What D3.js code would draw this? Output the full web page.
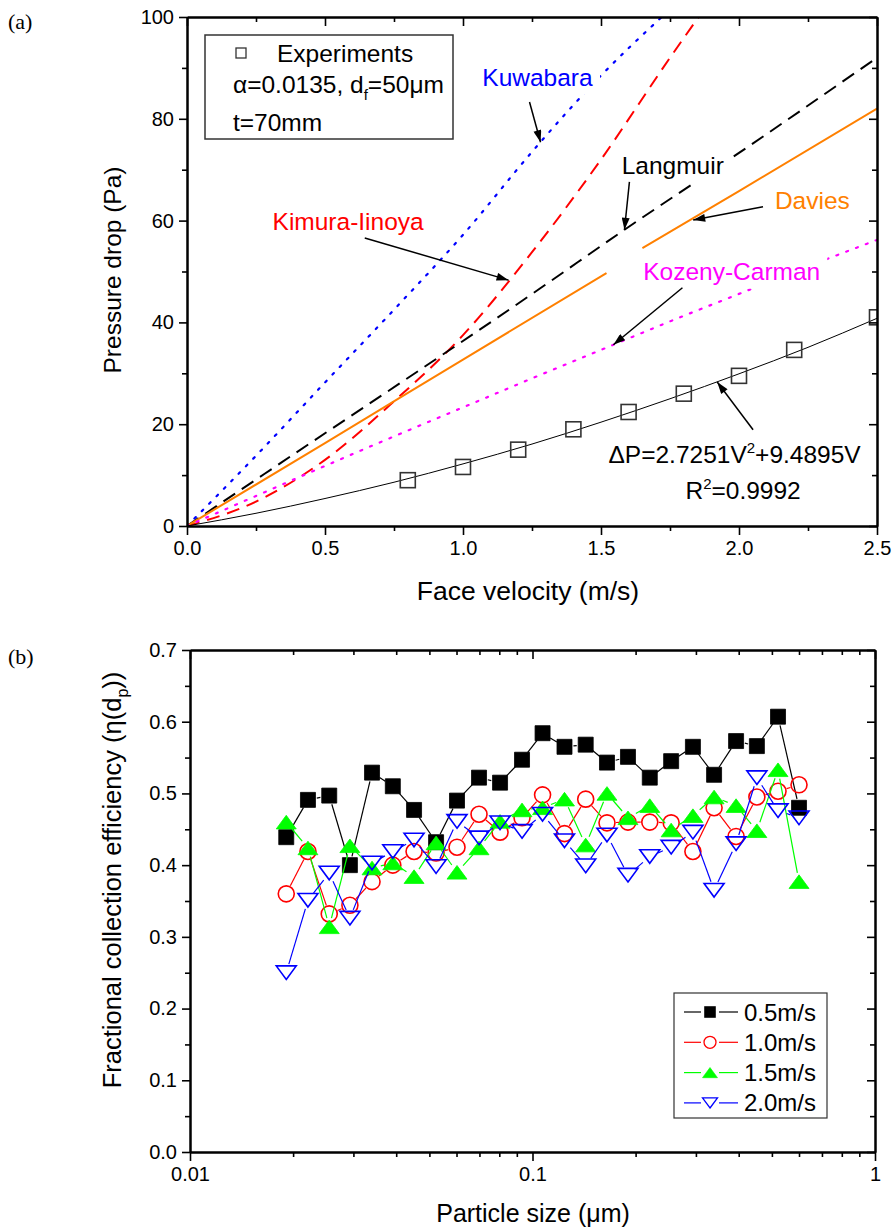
<!DOCTYPE html>
<html>
<head>
<meta charset="utf-8">
<script src="https://cdn.jsdelivr.net/npm/d3@7"></script>
<style>
  body { margin: 0; background: #fff; }
  svg { display: block; }
</style>
</head>
<body>
<div id="chart"></div>
<script>
/* ── Data: (a) pressure drop vs face velocity ───────────────────────── */
const velocity    = [0.8, 1.0, 1.2, 1.4, 1.6, 1.8, 2.0, 2.2, 2.5];
const pressureExp = [9.0, 11.6, 15.0, 19.0, 22.4, 26.0, 29.5, 34.6, 41.0];

// fitted curve
const fitCurve = [[0, 0], [0.25, 2.5], [0.5, 5.4], [0.75, 8.6], [1, 12.2], [1.25, 16.1],
                  [1.5, 20.4], [1.75, 25.0], [2, 29.9], [2.25, 35.1], [2.5, 40.8]];
const kuwabara = [[0, 0], [0.25, 13.8], [0.5, 28.2], [0.75, 42.5], [1, 57.2], [1.25, 73.5],
                  [1.5, 88.5], [1.72, 100]];
const kimura   = [[0, 0], [0.25, 4.8], [0.5, 13.0], [0.75, 24.5], [1, 37.5], [1.25, 53.8],
                  [1.5, 72.0], [1.75, 92.0], [1.86, 100.5]];
const langmuir = [[0, 0], [0.34, 12.4], [1.28, 46.7], [1.585, 58.2], [2.0, 73.3], [2.5, 92.0]];
const davies   = [[0, 0], [0.5, 16.3], [1, 32.7], [1.52, 49.7], [1.585, null],
                  [1.65, 54.6], [2.0, 65.8], [2.5, 82.0]];
const kozeny   = [[0, 0], [0.25, 5.9], [0.5, 11.8], [0.75, 17.6], [1, 23.3], [1.25, 29.0],
                  [1.5, 34.6], [1.75, 40.2], [2, 45.6], [2.25, 51.0], [2.5, 56.2]];

/* ── Data: (b) fractional efficiency vs particle size ───────────────── */
const particleSize = [0.0191, 0.0221, 0.0255, 0.0293, 0.0340, 0.0391, 0.0451, 0.0523, 0.0602,
                      0.0698, 0.0804, 0.0932, 0.107, 0.124, 0.143, 0.165, 0.190, 0.220, 0.254,
                      0.294, 0.339, 0.393, 0.452, 0.521, 0.600];
const eff05 = [0.439, 0.491, 0.497, 0.400, 0.529, 0.510, 0.477, 0.432, 0.490, 0.522, 0.515, 0.547,
               0.584, 0.565, 0.568, 0.543, 0.551, 0.522, 0.545, 0.565, 0.526, 0.573, 0.566, 0.607, 0.480];
const eff10 = [0.360, 0.419, 0.332, 0.344, 0.377, 0.400, 0.419, 0.417, 0.425, 0.471, 0.446, 0.466,
               0.498, 0.444, 0.492, 0.459, 0.460, 0.460, 0.459, 0.419, 0.480, 0.440, 0.495, 0.503, 0.512];
const eff15 = [0.460, 0.424, 0.314, 0.427, 0.396, 0.403, 0.384, 0.431, 0.390, 0.424, 0.461, 0.477,
               0.480, 0.492, 0.428, 0.500, 0.466, 0.483, 0.449, 0.469, 0.495, 0.483, 0.448, 0.533, 0.377];
const eff20 = [0.250, 0.351, 0.389, 0.326, 0.403, 0.419, 0.435, 0.398, 0.461, 0.438, 0.459, 0.447,
               0.471, 0.434, 0.399, 0.442, 0.386, 0.412, 0.425, 0.446, 0.365, 0.430, 0.522, 0.476, 0.466];
const seriesNames = ['0.5m/s', '1.0m/s', '1.5m/s', '2.0m/s'];

/* ── Tick values ────────────────────────────────────────────────────── */
const vTicks = [0, 0.5, 1.0, 1.5, 2.0, 2.5];
const vMinor = [0.25, 0.75, 1.25, 1.75, 2.25];
const pTicks = [0, 20, 40, 60, 80, 100];
const pMinor = [10, 30, 50, 70, 90];
const sTicks = [0.01, 0.1, 1];
const sMinor = [0.02, 0.03, 0.04, 0.05, 0.06, 0.07, 0.08, 0.09,
                0.2, 0.3, 0.4, 0.5, 0.6, 0.7, 0.8, 0.9];
const eTicks = [0, 0.1, 0.2, 0.3, 0.4, 0.5, 0.6, 0.7];
const eMinor = [0.05, 0.15, 0.25, 0.35, 0.45, 0.55, 0.65];

/* ── Setup ──────────────────────────────────────────────────────────── */
const W = 893, H = 1229;
const FONT = 'Liberation Sans, Arial, Helvetica, sans-serif';
const SERIF = 'Liberation Serif, Times New Roman, serif';

const svg = d3.select('#chart').append('svg')
  .attr('width', W).attr('height', H)
  .style('font-family', FONT);

const defs = svg.append('defs');
defs.append('marker')
  .attr('id', 'arrow')
  .attr('viewBox', '0 0 12 8')
  .attr('refX', 12).attr('refY', 4)
  .attr('markerWidth', 13).attr('markerHeight', 8)
  .attr('markerUnits', 'userSpaceOnUse')
  .attr('orient', 'auto')
  .append('path').attr('d', 'M0,0 L12,4 L0,8 Z').attr('fill', '#000');

/* ── Axis frame helper ──────────────────────────────────────────────── */
function frame(x, y, o) {
  const [x0, x1] = x.range();
  const [y0, y1] = y.range();   // y0 bottom, y1 top
  const g = svg.append('g');

  const styleAx = sel => {
    sel.select('.domain').attr('stroke', '#000').attr('stroke-width', 2);
    sel.selectAll('.tick line').attr('stroke', '#000').attr('stroke-width', 1.6);
    sel.selectAll('.tick text').attr('font-size', o.tickFont).attr('font-family', FONT).attr('fill', '#000');
  };

  // bottom (outward)
  g.append('g').attr('transform', `translate(0,${y0})`)
    .call(d3.axisBottom(x).tickValues(o.xTicks).tickFormat(o.xFmt).tickSize(9).tickSizeOuter(0).tickPadding(6))
    .call(styleAx);
  g.append('g').attr('transform', `translate(0,${y0})`)
    .call(d3.axisBottom(x).tickValues(o.xMinor).tickFormat('').tickSize(5).tickSizeOuter(0))
    .call(styleAx);
  // top (inward)
  g.append('g').attr('transform', `translate(0,${y1})`)
    .call(d3.axisTop(x).tickValues(o.xTicks).tickFormat('').tickSize(-9).tickSizeOuter(0))
    .call(styleAx);
  g.append('g').attr('transform', `translate(0,${y1})`)
    .call(d3.axisTop(x).tickValues(o.xMinor).tickFormat('').tickSize(-5).tickSizeOuter(0))
    .call(styleAx);
  // left (outward)
  g.append('g').attr('transform', `translate(${x0},0)`)
    .call(d3.axisLeft(y).tickValues(o.yTicks).tickFormat(o.yFmt).tickSize(8).tickSizeOuter(0).tickPadding(5))
    .call(styleAx);
  g.append('g').attr('transform', `translate(${x0},0)`)
    .call(d3.axisLeft(y).tickValues(o.yMinor).tickFormat('').tickSize(5).tickSizeOuter(0))
    .call(styleAx);
  // right (inward)
  g.append('g').attr('transform', `translate(${x1},0)`)
    .call(d3.axisRight(y).tickValues(o.yTicks).tickFormat('').tickSize(-8).tickSizeOuter(0))
    .call(styleAx);
  g.append('g').attr('transform', `translate(${x1},0)`)
    .call(d3.axisRight(y).tickValues(o.yMinor).tickFormat('').tickSize(-5).tickSizeOuter(0))
    .call(styleAx);
  return g;
}

// white box behind a label, so lines are cut as in the original
function boxed(g, txt, pad) {
  const b = txt.node().getBBox();
  g.insert('rect', () => txt.node())
    .attr('x', b.x - pad).attr('y', b.y - pad / 2)
    .attr('width', b.width + 2 * pad).attr('height', b.height + pad)
    .attr('fill', '#fff');
}

/* ══ (a) Pressure drop ═════════════════════════════════════════════════ */
const xa = d3.scaleLinear().domain([0, 2.5]).range([187, 877]);
const ya = d3.scaleLinear().domain([0, 100]).range([526, 17]);

defs.append('clipPath').attr('id', 'clipA').append('rect')
  .attr('x', 187).attr('y', 17).attr('width', 690).attr('height', 509);

const plotA = svg.append('g').attr('clip-path', 'url(#clipA)');
const lineA = d3.line()
  .defined(d => d[1] != null)
  .x(d => xa(d[0])).y(d => ya(d[1]))
  .curve(d3.curveMonotoneX);

const curves = [
  { data: kuwabara, color: '#0000ff', width: 2.2, dash: '2 8.5', cap: 'round' },
  { data: kimura,   color: '#ff0000', width: 2,   dash: '13 8',  cap: 'butt' },
  { data: langmuir, color: '#000000', width: 2,   dash: '14 8',  cap: 'butt' },
  { data: davies,   color: '#ff8000', width: 2,   dash: null,    cap: 'butt' },
  { data: kozeny,   color: '#ff00ff', width: 2.2, dash: '2 8.5', cap: 'round' },
  { data: fitCurve, color: '#000000', width: 1,   dash: null,    cap: 'butt' }
];
curves.forEach(c => {
  plotA.append('path')
    .attr('d', lineA(c.data))
    .attr('fill', 'none')
    .attr('stroke', c.color)
    .attr('stroke-width', c.width)
    .attr('stroke-dasharray', c.dash)
    .attr('stroke-linecap', c.cap);
});

// experimental squares
plotA.selectAll('rect.exp')
  .data(velocity.map((v, i) => [v, pressureExp[i]]))
  .join('rect')
  .attr('class', 'exp')
  .attr('x', d => xa(d[0]) - 7.5).attr('y', d => ya(d[1]) - 7.5)
  .attr('width', 15).attr('height', 15)
  .attr('fill', 'none').attr('stroke', '#333').attr('stroke-width', 1.6);

// model labels with white backing
const labA = svg.append('g').attr('font-size', 24.5);
const modelLabels = [
  { t: 'Kuwabara',      x: 1.07,  y: 86.5, c: '#0000ff' },
  { t: 'Langmuir',      x: 1.575, y: 69.2, c: '#000000' },
  { t: 'Davies',        x: 2.13,  y: 62.2, c: '#ff8000' },
  { t: 'Kimura-Iinoya', x: 0.31,  y: 58.2, c: '#ff0000' },
  { t: 'Kozeny-Carman', x: 1.653, y: 48.3, c: '#ff00ff' }
];
modelLabels.forEach(l => {
  const t = labA.append('text')
    .attr('x', xa(l.x)).attr('y', ya(l.y))
    .attr('fill', l.c).text(l.t);
  boxed(labA, t, 7);
});

// fit equation
const eq = labA.append('text').attr('x', xa(1.527)).attr('y', ya(12.3)).attr('fill', '#000');
eq.append('tspan').text('ΔP=2.7251V');
eq.append('tspan').attr('dy', -10).attr('font-size', 15).text('2');
eq.append('tspan').attr('dy', 10).text('+9.4895V');
const r2 = labA.append('text').attr('x', xa(1.806)).attr('y', ya(5.4)).attr('fill', '#000');
r2.append('tspan').text('R');
r2.append('tspan').attr('dy', -10).attr('font-size', 15).text('2');
r2.append('tspan').attr('dy', 10).text('=0.9992');

// arrows
const arrowsA = [
  [[1.241, 83.3], [1.281, 75.4]],
  [[1.603, 67.6], [1.585, 58.2]],
  [[2.087, 62.7], [1.834, 60.1]],
  [[0.644, 56.6], [1.165, 48.3]],
  [[1.795, 46.8], [1.545, 35.6]],
  [[2.051, 18.9], [1.921, 28.3]]
];
svg.append('g').selectAll('line')
  .data(arrowsA).join('line')
  .attr('x1', d => xa(d[0][0])).attr('y1', d => ya(d[0][1]))
  .attr('x2', d => xa(d[1][0])).attr('y2', d => ya(d[1][1]))
  .attr('stroke', '#000').attr('stroke-width', 1.5)
  .attr('marker-end', 'url(#arrow)');

// legend box
const legA = svg.append('g').attr('font-size', 24.5);
legA.append('rect')
  .attr('x', 205).attr('y', 35).attr('width', 248).attr('height', 104)
  .attr('fill', '#fff').attr('stroke', '#333').attr('stroke-width', 1.5);
legA.append('rect')
  .attr('x', 236).attr('y', 48).attr('width', 10).attr('height', 10)
  .attr('fill', 'none').attr('stroke', '#333').attr('stroke-width', 1.3);
legA.append('text').attr('x', 277).attr('y', 62).text('Experiments');
const alpha = legA.append('text').attr('x', 233).attr('y', 93);
alpha.append('tspan').text('α=0.0135, d');
alpha.append('tspan').attr('dy', 7).attr('font-size', 15).text('f');
alpha.append('tspan').attr('dy', -7).text('=50μm');
legA.append('text').attr('x', 233).attr('y', 131).text('t=70mm');

frame(xa, ya, {
  xTicks: vTicks, xMinor: vMinor, yTicks: pTicks, yMinor: pMinor,
  xFmt: d3.format('.1f'), yFmt: d3.format('d'), tickFont: 20
});

svg.append('text').attr('x', 528).attr('y', 600).attr('text-anchor', 'middle')
  .attr('font-size', 26.5).text('Face velocity (m/s)');
svg.append('text').attr('transform', 'translate(121,270) rotate(-90)')
  .attr('text-anchor', 'middle').attr('font-size', 24.5).text('Pressure drop (Pa)');
svg.append('text').attr('x', 8).attr('y', 29).attr('font-size', 22)
  .attr('font-family', SERIF).text('(a)');

/* ══ (b) Fractional collection efficiency ══════════════════════════════ */
const xb = d3.scaleLog().domain([0.01, 1]).range([190, 875]);
const yb = d3.scaleLinear().domain([0, 0.7]).range([1152, 650]);

const styleB = [
  { vals: eff05, color: '#000000', shape: 'square', fill: '#000000' },
  { vals: eff10, color: '#ff0000', shape: 'circle', fill: 'none' },
  { vals: eff15, color: '#00ff00', shape: 'up',     fill: '#00ff00' },
  { vals: eff20, color: '#0000ff', shape: 'down',   fill: 'none' }
];

function symbolPath(shape, cx, cy, s) {
  const h = s / 2;
  if (shape === 'square') return `M${cx - h},${cy - h}h${s}v${s}h${-s}Z`;
  if (shape === 'circle') return `M${cx + h},${cy}A${h},${h} 0 1,1 ${cx - h},${cy}A${h},${h} 0 1,1 ${cx + h},${cy}Z`;
  const th = s * 0.85 / 2;
  if (shape === 'up')   return `M${cx},${cy - th}L${cx + h * 1.25},${cy + th}L${cx - h * 1.25},${cy + th}Z`;
  return `M${cx},${cy + th}L${cx + h * 1.25},${cy - th}L${cx - h * 1.25},${cy - th}Z`;
}
const symSize = { square: 15, circle: 16, up: 16, down: 16 };

const plotB = svg.append('g');
styleB.forEach(s => {
  const pts = particleSize.map((d, i) => [xb(d), yb(s.vals[i])]);
  const g = plotB.append('g');
  // connecting segments, cut short of the symbols
  const gap = 9;
  for (let i = 0; i < pts.length - 1; i++) {
    const [ax, ay] = pts[i], [bx, by] = pts[i + 1];
    const dx = bx - ax, dy = by - ay, len = Math.hypot(dx, dy);
    if (len <= 2 * gap) continue;
    const ux = dx / len, uy = dy / len;
    g.append('line')
      .attr('x1', ax + ux * gap).attr('y1', ay + uy * gap)
      .attr('x2', bx - ux * gap).attr('y2', by - uy * gap)
      .attr('stroke', s.color).attr('stroke-width', 1.2);
  }
  g.selectAll('path.sym').data(pts).join('path')
    .attr('class', 'sym')
    .attr('d', p => symbolPath(s.shape, p[0], p[1], symSize[s.shape]))
    .attr('fill', s.fill)
    .attr('stroke', s.color)
    .attr('stroke-width', s.fill === 'none' ? 1.6 : 0.8);
});

// legend
const legB = svg.append('g').attr('font-size', 24);
legB.append('rect')
  .attr('x', 674).attr('y', 993).attr('width', 153).attr('height', 125)
  .attr('fill', '#fff').attr('stroke', '#333').attr('stroke-width', 1.2);
styleB.forEach((s, i) => {
  const cy = 1012 + i * 30.3;
  legB.append('line').attr('x1', 684).attr('x2', 701).attr('y1', cy).attr('y2', cy)
    .attr('stroke', s.color).attr('stroke-width', 1.2);
  legB.append('line').attr('x1', 719).attr('x2', 738).attr('y1', cy).attr('y2', cy)
    .attr('stroke', s.color).attr('stroke-width', 1.2);
  legB.append('path')
    .attr('d', symbolPath(s.shape, 710, cy, s.shape === 'square' ? 11 : 12))
    .attr('fill', s.fill).attr('stroke', s.color)
    .attr('stroke-width', s.fill === 'none' ? 1.3 : 0.6);
  legB.append('text').attr('x', 744).attr('y', cy + 8.5).text(seriesNames[i]);
});

frame(xb, yb, {
  xTicks: sTicks, xMinor: sMinor, yTicks: eTicks, yMinor: eMinor,
  xFmt: d => (d >= 1 ? '1' : String(d)), yFmt: d3.format('.1f'), tickFont: 20
});

svg.append('text').attr('x', 533).attr('y', 1222).attr('text-anchor', 'middle')
  .attr('font-size', 25).text('Particle size (μm)');
const yTitleB = svg.append('text').attr('transform', 'translate(121,880) rotate(-90)')
  .attr('text-anchor', 'middle').attr('font-size', 25.5);
yTitleB.append('tspan').text('Fractional collection efficiency (η(d');
yTitleB.append('tspan').attr('dy', 7).attr('font-size', 16).text('p');
yTitleB.append('tspan').attr('dy', -7).text('))');
svg.append('text').attr('x', 8).attr('y', 664).attr('font-size', 22)
  .attr('font-family', SERIF).text('(b)');
</script>
</body>
</html>
